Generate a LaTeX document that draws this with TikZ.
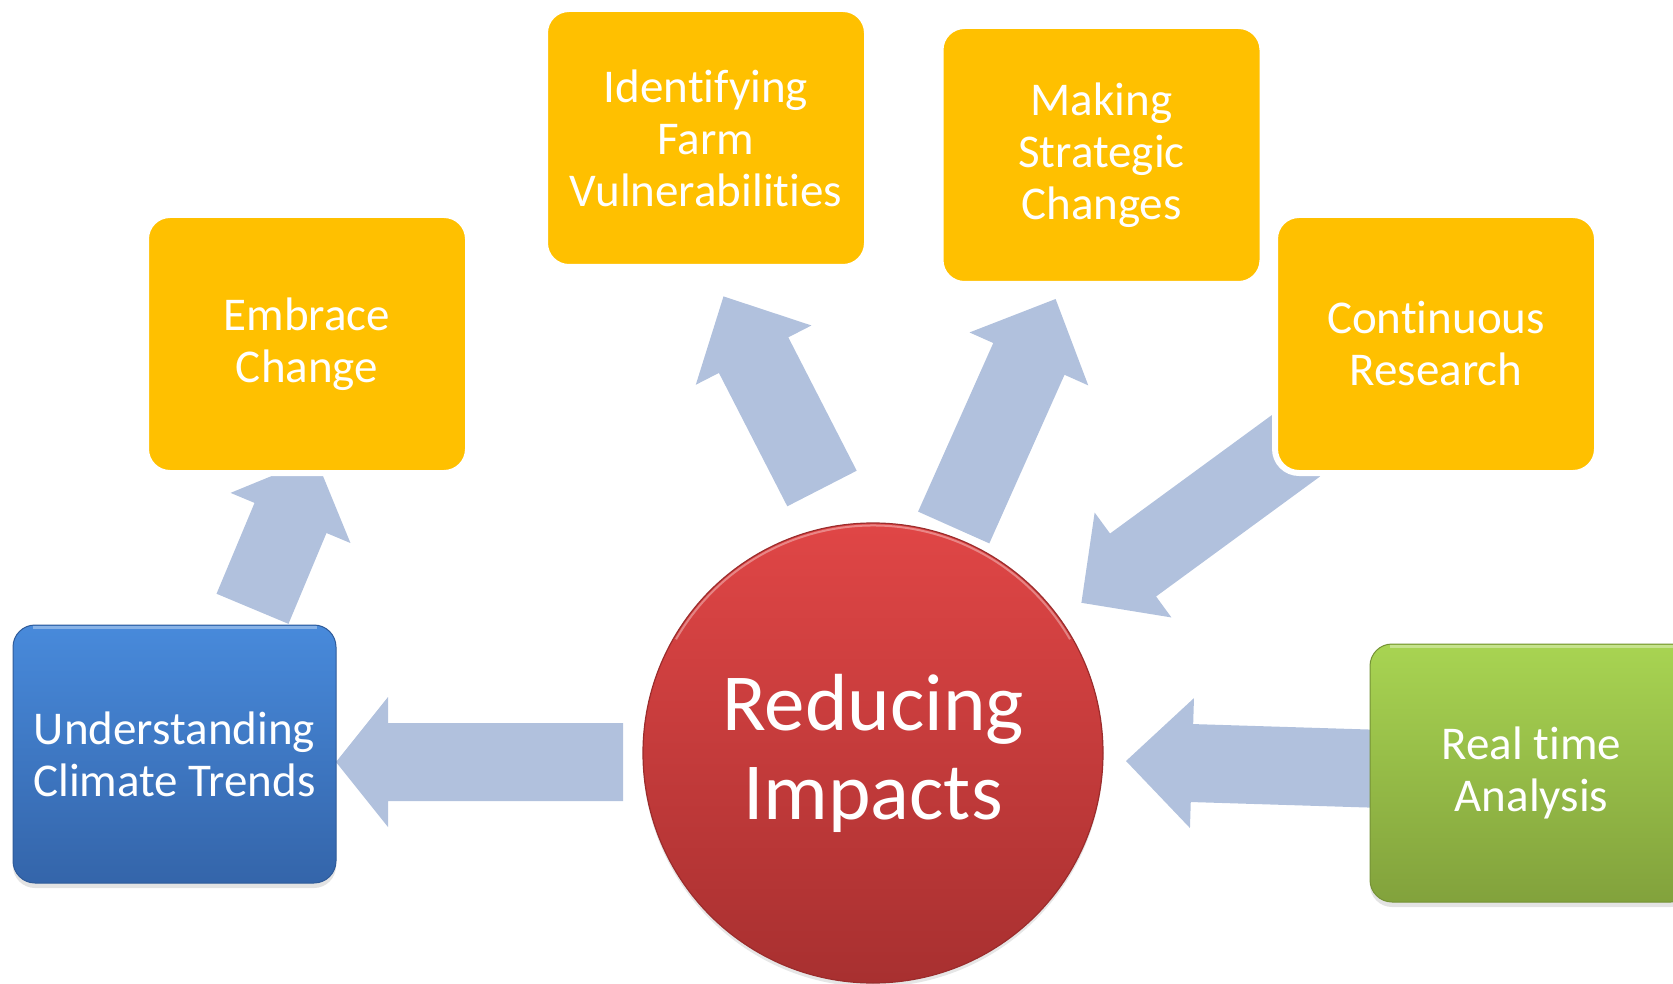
\documentclass[tikz,border=0pt]{standalone}
\usepackage{fontspec}
\setmainfont{Carlito}[Ligatures=NoCommon]
\usetikzlibrary{calc,shadows,backgrounds}

\definecolor{arrowblue}{RGB}{177,193,221}
\definecolor{gold}{RGB}{255,192,0}
\definecolor{blueT}{RGB}{72,138,219}
\definecolor{blueB}{RGB}{52,101,170}
\definecolor{greenT}{RGB}{168,212,82}
\definecolor{greenB}{RGB}{130,162,60}
\definecolor{redT}{RGB}{224,70,70}
\definecolor{redB}{RGB}{168,48,48}

\tikzset{
  arrowbody/.style={fill=arrowblue},
  boxtext/.style={text=white, align=center, font=\fontsize{47}{52}\selectfont, inner sep=0pt},
  goldbox/.style={boxtext, rectangle, rounded corners=24pt, fill=gold, draw=white,
    line width=6pt, minimum width=322pt, minimum height=258pt},
  bluebox/.style={boxtext, rectangle, rounded corners=22pt, top color=blueT, bottom color=blueB,
    draw=blueB!90!black, line width=1pt, minimum width=323pt, minimum height=258pt,
    drop shadow={opacity=0.22, shadow xshift=0pt, shadow yshift=-5pt}},
  greenbox/.style={boxtext, rectangle, rounded corners=22pt, top color=greenT, bottom color=greenB,
    draw=greenB!90!black, line width=1pt, minimum width=323pt, minimum height=258pt,
    drop shadow={opacity=0.22, shadow xshift=0pt, shadow yshift=-5pt}},
  hub/.style={circle, minimum size=460pt, inner sep=0pt, top color=redT, bottom color=redB,
    draw=redB!92!black, line width=1.2pt, text=white, align=center,
    font=\fontsize{81}{89}\selectfont,
    drop shadow={opacity=0.2, shadow xshift=0pt, shadow yshift=-4pt}},
  bevel/.style={draw=white, line width=2.5pt, opacity=0.35},
}

% #1 tail, #2 tip, #3 head length, #4 name prefix
\newcommand\blockarrow[4]{%
  \coordinate (#4h) at ($(#2)!#3!(#1)$);
  \fill[arrowbody] ($(#1)!39pt!90:(#2)$) -- ($(#4h)!39pt!90:(#2)$) -- ($(#4h)!65pt!90:(#2)$)
    -- (#2) -- ($(#4h)!65pt!-90:(#2)$) -- ($(#4h)!39pt!-90:(#2)$) -- ($(#1)!39pt!-90:(#2)$) -- cycle;
}

\begin{document}
\begin{tikzpicture}[x=1pt,y=-1pt]
  \useasboundingbox (0,0) rectangle (1673,984);
  \clip (0,0) rectangle (1673,984);

  % nodes
  \node[bluebox] (ct) at (174.5,754) {Understanding\\Climate Trends};
  \node[greenbox] (rt) at (1531.5,773) {Real time\\Analysis};
  \node[goldbox] (ec) at (307,344) {Embrace\\Change};
  \node[goldbox] (ifv) at (706,138) {Identifying\\Farm\\Vulnerabilities};
  \node[goldbox] (msc) at (1101.5,155) {Making\\Strategic\\Changes};
  \node[goldbox] (cr) at (1436,344) {Continuous\\Research};
  \node[hub] (ri) at (873,753) {Reducing\\Impacts};

  % top bevel highlights
  \draw[bevel] ($(ct.north west)+(20,3)$) -- ($(ct.north east)+(-20,3)$);
  \draw[bevel] ($(rt.north west)+(20,3)$) -- ($(rt.north east)+(-20,3)$);
  \draw[bevel, line width=2pt] ($(ri.center)+(210:227.5)$) arc[start angle=210, end angle=330, radius=227.5];

  % arrow end points
  \coordinate (a1t) at (623,762);    \coordinate (a1p) at (336,762);
  \coordinate (a2t) at (1400,769.5); \coordinate (a2p) at (1126,761);
  \coordinate (a3t) at (1297,445);   \coordinate (a3p) at (1081.4,602.8);
  \coordinate (a4t) at (953.7,527.5);\coordinate (a4p) at (1055.6,299);
  \coordinate (a5t) at (822,488.5);  \coordinate (a5p) at (723.5,296.4);
  \coordinate (a6t) at (252.5,608.8);\coordinate (a6p) at (315.6,458);

  \begin{pgfonlayer}{background}
    \blockarrow{a1t}{a1p}{52pt}{a1}
    \blockarrow{a2t}{a2p}{66pt}{a2}
    \blockarrow{a3t}{a3p}{64pt}{a3}
    \blockarrow{a4t}{a4p}{65.6pt}{a4}
    \blockarrow{a5t}{a5p}{66pt}{a5}
    \blockarrow{a6t}{a6p}{65pt}{a6}
  \end{pgfonlayer}
\end{tikzpicture}
\end{document}
